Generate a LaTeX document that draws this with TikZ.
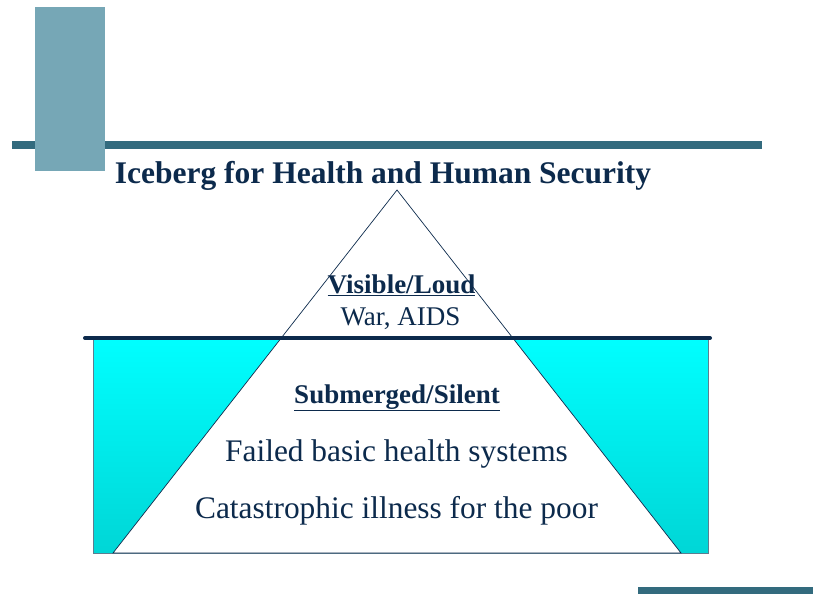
\documentclass[tikz,border=0pt]{standalone}
\usepackage{fontspec}
\setmainfont{Liberation Serif}
\begin{document}
\definecolor{steel}{HTML}{76A7B6}
\definecolor{bartone}{HTML}{336B7E}
\definecolor{navy}{HTML}{0C2A4C}
\definecolor{seaedge}{HTML}{5B7E90}
\begin{tikzpicture}[x=1pt,y=-1pt,
  band/.style={fill=bartone,draw=none},
  label/.style={text=navy,inner sep=0pt,anchor=base},
  heading/.style={label,font=\bfseries\fontsize{27}{31}\selectfont},
  plain/.style={label,font=\fontsize{27}{31}\selectfont},
  large/.style={label,font=\fontsize{31.4}{36}\selectfont}]
\useasboundingbox (0,0) rectangle (813,594);
% slide decoration
\fill[band] (12,141) rectangle (762,149);
\fill[steel] (35,7) rectangle (105,171);
\fill[band] (638,587) rectangle (813,594);
% title
\node[label,font=\bfseries\fontsize{31.5}{36}\selectfont] (title) at (383,183) {Iceberg for Health and Human Security};
% iceberg geometry
\coordinate (apex) at (397,190);
\coordinate (bl) at (113,553);
\coordinate (br) at (681,553);
% sea
\shade[top color=cyan,bottom color={rgb,255:red,0;green,214;blue,214}] (93,338) rectangle (708,553);
\draw[seaedge,line width=0.8pt] (93,338) -- (93,553) -- (708,553) -- (708,338);
% iceberg
\filldraw[fill=white,draw=navy,line width=0.7pt] (apex) -- (bl) -- (br) -- cycle;
% waterline
\coordinate (wl) at (85,338);
\coordinate (wr) at (710,338);
\draw[navy,line width=4pt,line cap=round] (wl) -- (wr);
% labels
\node[heading] (vis) at (401.5,293) {\underline{Visible/Loud}};
\node[plain] (war) at (400.5,325) {War, AIDS};
\node[heading] (sub) at (397,403) {\underline{Submerged/Silent}};
\node[large] (fail) at (396.5,461) {Failed basic health systems};
\node[large] (cat) at (396.5,518) {Catastrophic illness for the poor};
\end{tikzpicture}
\end{document}
